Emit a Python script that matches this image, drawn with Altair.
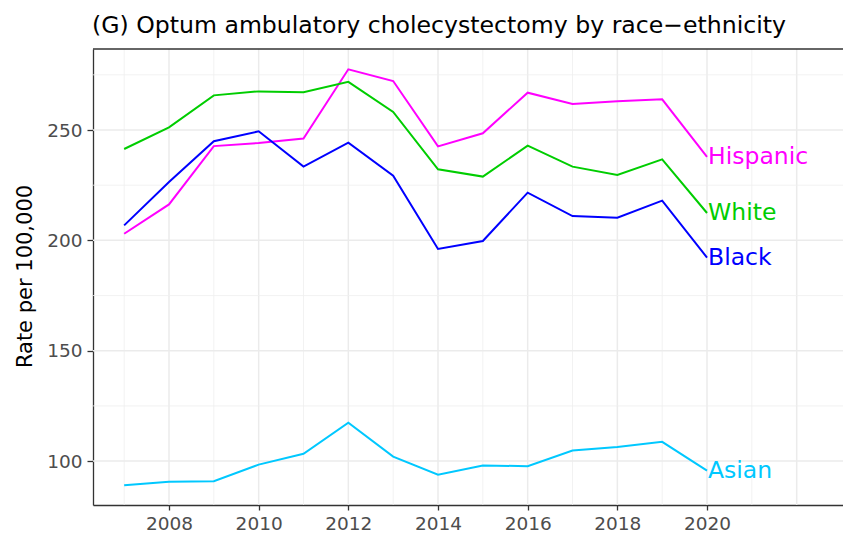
import altair as alt
import pandas as pd

years = list(range(2007, 2021))
hispanic = [203.0, 216.3, 242.7, 244.1, 246.1, 277.5, 272.2, 242.6, 248.5, 266.9, 261.8, 263.0, 263.9, 237.8]
white = [241.4, 251.2, 265.7, 267.5, 267.1, 271.8, 258.2, 232.2, 228.9, 242.9, 233.4, 229.6, 236.7, 212.4]
black = [206.8, 226.4, 244.9, 249.4, 233.4, 244.3, 229.3, 196.1, 199.7, 221.6, 211.0, 210.3, 218.0, 192.2]
asian = [89.0, 90.6, 90.9, 98.4, 103.3, 117.4, 102.0, 93.8, 98.0, 97.7, 104.8, 106.4, 108.7, 95.7]

series_names = ["Hispanic", "White", "Black", "Asian"]
series_colors = ["#FF00FF", "#00CD00", "#0000FF", "#00C8FF"]

x_tick_labels = [2008, 2010, 2012, 2014, 2016, 2018, 2020]
x_major_grid = [2008, 2010, 2012, 2014, 2016, 2018, 2020, 2022]
x_minor_grid = [2007, 2009, 2011, 2013, 2015, 2017, 2019, 2021]
y_major = [100, 150, 200, 250]
y_minor = [125, 175, 225, 275]

title_text = "(G) Optum ambulatory cholecystectomy by race\u2212ethnicity"
y_title = "Rate per 100,000"

rows = []
for name, vals in zip(series_names, [hispanic, white, black, asian]):
    for yr, v in zip(years, vals):
        rows.append({"year": yr, "rate": v, "group": name})
df = pd.DataFrame(rows)
last = df[df["year"] == years[-1]]

FONT = "DejaVu Sans"
W, H = 750, 456
xscale = alt.Scale(domain=[2006.305, 2023.033], nice=False, zero=False)
yscale = alt.Scale(domain=[80.1, 286.7], nice=False, zero=False)

xaxis = alt.Axis(title=None, values=x_tick_labels, format="d", grid=False,
                 labelFontSize=18.5, labelColor="#4D4D4D", labelFont=FONT,
                 tickSize=5, tickColor="#333333", tickWidth=1.3,
                 domainColor="#333333", domainWidth=1.3, labelPadding=4)
yaxis = alt.Axis(title=y_title, values=y_major, grid=False,
                 labelFontSize=18.5, labelColor="#4D4D4D", labelFont=FONT,
                 tickSize=6, tickColor="#333333", tickWidth=1.3,
                 domainColor="#333333", domainWidth=1.3, labelPadding=5,
                 titleFont=FONT, titleFontSize=21, titleFontWeight="normal",
                 titleColor="black", titleAngle=-90, titleX=-68, titleY=227,
                 titleAlign="center", titleBaseline="middle")

color = alt.Color("group:N", scale=alt.Scale(domain=series_names, range=series_colors), legend=None)

xg_minor = alt.Chart(pd.DataFrame({"v": x_minor_grid})).mark_rule(
    color="#EFEFEF", strokeWidth=0.8).encode(x=alt.X("v:Q", scale=xscale, axis=xaxis))
xg_major = alt.Chart(pd.DataFrame({"v": x_major_grid})).mark_rule(
    color="#EBEBEB", strokeWidth=1.5).encode(x=alt.X("v:Q", scale=xscale, axis=xaxis))
yg_minor = alt.Chart(pd.DataFrame({"v": y_minor})).mark_rule(
    color="#EFEFEF", strokeWidth=0.8).encode(y=alt.Y("v:Q", scale=yscale, axis=yaxis))
yg_major = alt.Chart(pd.DataFrame({"v": y_major})).mark_rule(
    color="#EBEBEB", strokeWidth=1.5).encode(y=alt.Y("v:Q", scale=yscale, axis=yaxis))

top_border = alt.Chart(pd.DataFrame({"v": [0]})).mark_rule(
    color="#333333", strokeWidth=1.3).encode(
    x=alt.value(0), x2=alt.value(W), y=alt.value(0))

lines = alt.Chart(df).mark_line(strokeWidth=2).encode(
    x=alt.X("year:Q", scale=xscale, axis=xaxis),
    y=alt.Y("rate:Q", scale=yscale, axis=yaxis),
    color=color,
    detail="group:N",
)

labels = alt.Chart(last).mark_text(align="left", baseline="middle", dx=1,
                                   fontSize=23.5, font=FONT).encode(
    x=alt.X("year:Q", scale=xscale, axis=xaxis),
    y=alt.Y("rate:Q", scale=yscale, axis=yaxis),
    text="group:N",
    color=color,
)

chart = alt.layer(xg_minor, xg_major, yg_minor, yg_major, top_border, lines, labels).properties(
    width=W, height=H,
    autosize=alt.AutoSizeParams(type="none"),
    padding={"left": 85, "top": 41, "right": 0, "bottom": 36},
    title=alt.TitleParams(text=title_text, anchor="start", frame="group",
                          fontSize=23.6, font=FONT, fontWeight="normal",
                          color="black", baseline="alphabetic", offset=19, dx=-1, dy=27),
).configure_view(stroke=None)

chart.save("out.html", embed_options={"renderer": "svg", "actions": False})
